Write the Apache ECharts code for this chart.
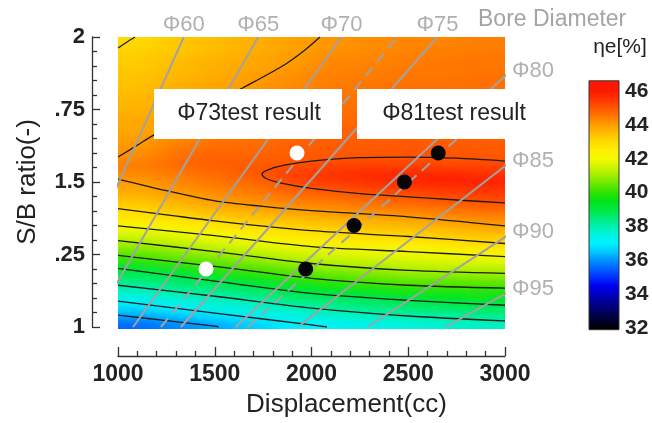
<!DOCTYPE html>
<html>
<head>
<meta charset="utf-8">
<script src="https://cdn.jsdelivr.net/npm/echarts@6/dist/echarts.min.js"></script>
<style>
  html, body { margin: 0; padding: 0; background: #fff; }
  #chart { width: 652px; height: 423px; }
</style>
</head>
<body>
<!-- soft shading for the efficiency field layer (wider across than down) -->
<svg width="0" height="0" style="position:absolute">
  <filter id="fieldShade" x="-10%" y="-10%" width="120%" height="120%">
    <feGaussianBlur stdDeviation="14 3.5"/>
  </filter>
</svg>
<div id="chart"></div>
<script>
// ---- efficiency map: cell centres (displacement in cc, stroke/bore ratio) ----
const displacementCells = [1100, 1300, 1500, 1700, 1900, 2100, 2300, 2500, 2700, 2900];
const ratioCells = [1.0125, 1.0375, 1.0625, 1.0875, 1.1125, 1.1375, 1.1625, 1.1875, 1.2125, 1.2375,
  1.2625, 1.2875, 1.3125, 1.3375, 1.3625, 1.3875, 1.4125, 1.4375, 1.4625, 1.4875,
  1.5125, 1.5375, 1.5625, 1.5875, 1.6125, 1.6375, 1.6625, 1.6875, 1.7125, 1.7375,
  1.7625, 1.7875, 1.8125, 1.8375, 1.8625, 1.8875, 1.9125, 1.9375, 1.9625, 1.9875];

// brake thermal efficiency [%], one column per displacement cell, bottom to top
const etaByDisplacement = [
  [35.6,36.1,36.6,37.1,37.6,38.0,38.5,38.9,39.4,40.0,40.5,41.0,41.4,41.9,42.4,42.8,43.1,43.4,43.7,43.9,44.1,44.3,44.4,44.2,44.1,44.0,43.9,43.8,43.8,43.7,43.6,43.6,43.5,43.4,43.4,43.3,43.2,43.2,43.1,43.0],
  [35.9,36.4,37.0,37.4,37.9,38.3,38.8,39.2,39.8,40.3,40.8,41.2,41.7,42.2,42.6,43.1,43.4,43.7,44.0,44.2,44.3,44.5,44.7,44.6,44.5,44.3,44.2,44.1,44.0,43.9,43.8,43.8,43.7,43.7,43.6,43.5,43.5,43.4,43.3,43.3],
  [36.2,36.8,37.3,37.7,38.1,38.6,39.1,39.6,40.1,40.6,41.1,41.5,42.0,42.4,42.9,43.3,43.7,44.0,44.2,44.4,44.6,44.7,44.9,44.8,44.7,44.6,44.5,44.4,44.3,44.1,44.0,44.0,43.9,43.8,43.8,43.7,43.7,43.6,43.5,43.5],
  [36.6,37.1,37.5,38.0,38.4,38.9,39.4,39.9,40.4,40.9,41.3,41.8,42.2,42.7,43.2,43.5,43.9,44.2,44.4,44.6,44.8,45.0,44.9,44.8,44.7,44.6,44.6,44.5,44.4,44.3,44.3,44.2,44.1,44.0,44.0,43.9,43.8,43.8,43.7,43.7],
  [37.0,37.4,37.8,38.3,38.8,39.3,39.7,40.2,40.7,41.2,41.6,42.1,42.5,43.0,43.3,43.7,44.1,44.4,44.7,45.0,45.3,45.3,45.0,44.9,44.9,44.8,44.7,44.7,44.6,44.5,44.4,44.4,44.3,44.2,44.2,44.1,44.0,44.0,43.9,43.9],
  [37.2,37.6,38.1,38.5,39.0,39.5,40.0,40.5,41.0,41.4,41.8,42.3,42.7,43.1,43.5,43.9,44.2,44.5,44.9,45.2,45.5,45.5,45.2,45.0,44.9,44.9,44.8,44.8,44.7,44.6,44.6,44.5,44.5,44.4,44.4,44.3,44.3,44.2,44.1,44.1],
  [37.3,37.8,38.3,38.7,39.2,39.7,40.2,40.7,41.1,41.5,41.9,42.4,42.9,43.3,43.6,44.0,44.4,44.7,45.0,45.4,45.7,45.6,45.3,45.0,44.9,44.9,44.8,44.8,44.7,44.7,44.6,44.6,44.5,44.5,44.4,44.4,44.3,44.3,44.2,44.2],
  [37.5,38.0,38.5,38.9,39.4,39.9,40.4,40.9,41.3,41.7,42.1,42.5,43.0,43.4,43.7,44.1,44.5,44.8,45.2,45.5,45.8,45.6,45.3,45.0,45.0,44.9,44.9,44.8,44.8,44.7,44.7,44.6,44.6,44.6,44.5,44.5,44.4,44.4,44.3,44.3],
  [37.7,38.1,38.6,39.1,39.5,40.0,40.4,40.9,41.4,41.8,42.2,42.7,43.2,43.5,43.9,44.3,44.6,45.0,45.3,45.6,45.9,45.6,45.2,45.0,45.0,44.9,44.9,44.8,44.8,44.7,44.7,44.7,44.6,44.6,44.5,44.5,44.5,44.4,44.4,44.3],
  [37.8,38.3,38.7,39.2,39.6,40.0,40.5,41.0,41.4,41.9,42.4,42.9,43.3,43.7,44.1,44.4,44.8,45.1,45.4,45.7,45.8,45.5,45.2,45.0,44.9,44.9,44.9,44.8,44.8,44.8,44.7,44.7,44.6,44.6,44.6,44.5,44.5,44.5,44.4,44.4]
];

// iso-efficiency lines [displacement, S/B ratio]
const contour36 = [[1000,1.041],[1250,1.022],[1500,1.003],[1520,1.0]];
const contour37 = [[1000,1.089],[1500,1.048],[2000,1.007],[2080,1.0]];
const contour38 = [[1000,1.144],[1500,1.106],[2000,1.065],[2500,1.038],[3000,1.021]];
const contour39 = [[1000,1.202],[1500,1.158],[2000,1.116],[2500,1.092],[3000,1.075]];
const contour40 = [[1000,1.247],[1500,1.209],[2000,1.168],[2500,1.144],[3000,1.134]];
const contour41 = [[1000,1.298],[1500,1.260],[2000,1.219],[2500,1.195],[3000,1.185]];
const contour42 = [[1000,1.349],[1500,1.315],[2000,1.277],[2500,1.260],[3000,1.243]];
const contour43 = [[1000,1.408],[1250,1.387],[1500,1.366],[2000,1.332],[2500,1.312],[3000,1.288]];
const contour44 = [[1000,1.510],[1250,1.470],[1500,1.435],[1750,1.416],[2000,1.401],[2500,1.380],[3000,1.349]];
const contour45 = [[3000,1.572],[2750,1.582],[2500,1.586],[2250,1.584],[2000,1.572],[1860,1.558],[1775,1.542],[1744,1.527],
                   [1765,1.512],[1850,1.495],[2000,1.478],[2250,1.460],[2500,1.449],[2750,1.438],[3000,1.428]];
const contour44Upper = [[1000,1.586],[1100,1.627],[1180,1.660],[1420,1.745],[1646,1.825],[1850,1.900],[1960,1.952],[2044,2.0]];
const contour43Upper = [[1000,1.962],[1045,1.982],[1088,2.0]];

// constant-bore lines: displacement at S/B = 1 and at S/B = 2
const boreNames = ['Φ60', 'Φ65', 'Φ70', 'Φ73', 'Φ75', 'Φ80', 'Φ81', 'Φ85', 'Φ90', 'Φ95'];
const boreDispAtRatio1 = [670, 863, 1078, 1222, 1325, 1608, 1670, 1929, 2290, 2693];
const boreDispAtRatio2 = [1340, 1725, 2155, 2444, 2651, 3217, 3339, 3858, 4580, 5386];
const testBores = ['Φ73', 'Φ81'];

// measured points
const test73 = [[1455, 1.2], [1925, 1.6]];
const test81 = [[1970, 1.2], [2220, 1.35], [2480, 1.5], [2655, 1.6]];

// tick labels
const ratioTickLabels = ['1', '.25', '1.5', '.75', '2'];
const etaMin = 32, etaMax = 46;

// colour scale 32 .. 46 in steps of 0.5
const etaColors = ['#000000','#000030','#000060','#000090','#0000c0','#0000f0','#0030ff','#0060ff','#0090ff','#00c8ff',
  '#00f0ff','#00f4e0','#00f0b0','#00ec78','#00e840','#00e418','#30e400','#68e800','#a0ee00','#d0f400',
  '#f4fa00','#ffee00','#ffda00','#ffbc00','#ff9c00','#ff7600','#ff5400','#ff3400','#ff1800'];

const FONT = 'Liberation Sans, Arial, sans-serif';
const TOP = 2; // drawing layer for everything above the shaded field

const heatData = [];
displacementCells.forEach((x, i) => {
  ratioCells.forEach((r, j) => heatData.push([x, r, etaByDisplacement[i][j]]));
});
const nRows = ratioCells.length, nCols = displacementCells.length;
const cellW = displacementCells[1] - displacementCells[0];
const cellH = ratioCells[1] - ratioCells[0];

const contourLines = [contour36, contour37, contour38, contour39, contour40, contour41, contour42,
  contour43, contour44, contour45, contour44Upper, contour43Upper];

const chart = echarts.init(document.getElementById('chart'), null, { renderer: 'canvas' });

const series = [];

// filled efficiency field (own layer; edge cells run past the frame so the shading stays even)
series.push({
  type: 'custom',
  xAxisIndex: 0, yAxisIndex: 0,
  data: heatData,
  encode: { x: 0, y: 1 },
  clip: false,
  silent: true,
  zlevel: 0,
  z: 1,
  renderItem: function (params, api) {
    const idx = params.dataIndex;
    const i = Math.floor(idx / nRows), j = idx % nRows;
    const x = api.value(0), r = api.value(1);
    const p0 = api.coord([x - cellW / 2, r + cellH / 2]);
    const p1 = api.coord([x + cellW / 2, r - cellH / 2]);
    let left = p0[0], top = p0[1], right = p1[0] + 0.7, bottom = p1[1] + 0.7;
    if (i === 0) left -= 45;
    if (i === nCols - 1) right += 45;
    if (j === 0) bottom += 14;
    if (j === nRows - 1) top -= 14;
    return {
      type: 'rect',
      shape: { x: left, y: top, width: right - left, height: bottom - top },
      style: { fill: api.visual('color') }
    };
  }
});

// iso-efficiency lines
contourLines.forEach(pts => {
  series.push({
    type: 'line', xAxisIndex: 0, yAxisIndex: 0,
    data: pts, smooth: 0.3, symbol: 'none', silent: true, zlevel: TOP, z: 3,
    lineStyle: { color: '#1c1c1c', width: 1.3 }
  });
});

// constant-bore lines
boreNames.forEach((name, i) => {
  const isTest = testBores.indexOf(name) >= 0;
  series.push({
    type: 'line', xAxisIndex: 0, yAxisIndex: 0,
    data: [[boreDispAtRatio1[i], 1], [boreDispAtRatio2[i], 2]],
    symbol: 'none', silent: true, clip: true, zlevel: TOP, z: 4,
    lineStyle: { color: '#a2a2a2', width: 2, type: isTest ? [11, 7] : 'solid' }
  });
});

// bore labels along the top edge and the right edge
const topLabels = [], rightLabels = [];
boreNames.forEach((name, i) => {
  if (testBores.indexOf(name) >= 0) return;
  const x1 = boreDispAtRatio1[i], x2 = boreDispAtRatio2[i];
  if (x2 <= 3000) {
    topLabels.push({ value: [x2, 2], name: name });
  } else {
    const rEnd = 1 + (3000 - x1) / (x2 - x1);
    rightLabels.push({ value: [3000, rEnd], name: name });
  }
});
const boreLabelStyle = { show: true, formatter: '{b}', fontFamily: FONT, fontSize: 22, color: '#9c9c9c' };
series.push({
  type: 'scatter', xAxisIndex: 0, yAxisIndex: 0, data: topLabels, symbolSize: 0, silent: true, zlevel: TOP, z: 6,
  label: Object.assign({ position: 'top', distance: 1 }, boreLabelStyle)
});
series.push({
  type: 'scatter', xAxisIndex: 0, yAxisIndex: 0, data: rightLabels, symbolSize: 0, silent: true, zlevel: TOP, z: 6,
  label: Object.assign({ position: 'right', distance: 7, offset: [0, -5] }, boreLabelStyle)
});

// test points
series.push({
  type: 'scatter', xAxisIndex: 0, yAxisIndex: 0, data: test73, symbolSize: 15, silent: true, zlevel: TOP, z: 7,
  itemStyle: { color: '#ffffff', opacity: 1 }
});
series.push({
  type: 'scatter', xAxisIndex: 0, yAxisIndex: 0, data: test81, symbolSize: 15, silent: true, zlevel: TOP, z: 7,
  itemStyle: { color: '#050505', opacity: 1 }
});

// colour bar
const cbTop = 46.6, cbBottom = 31.9;
const cbStops = [{ offset: 0, color: etaColors[etaColors.length - 1] }];
for (let k = etaColors.length - 1; k >= 0; k--) {
  const v = etaMin + k * (etaMax - etaMin) / (etaColors.length - 1);
  cbStops.push({ offset: (cbTop - v) / (cbTop - cbBottom), color: etaColors[k] });
}
cbStops.push({ offset: 1, color: etaColors[0] });
series.push({
  type: 'custom', xAxisIndex: 1, yAxisIndex: 1, data: [[0.5, 39]], clip: false, silent: true, zlevel: TOP, z: 2,
  renderItem: function (params, api) {
    const a = api.coord([0, cbTop]);
    const b = api.coord([1, cbBottom]);
    return {
      type: 'rect',
      shape: { x: a[0], y: a[1], width: b[0] - a[0], height: b[1] - a[1] },
      style: {
        fill: new echarts.graphic.LinearGradient(0, 0, 0, 1, cbStops),
        stroke: '#333', lineWidth: 1
      }
    };
  }
});

const tickStyle = { color: '#333', width: 1.3 };

const option = {
  animation: false,
  backgroundColor: 'transparent',
  title: {
    text: 'Bore Diameter', left: 478, top: 8, padding: 0, zlevel: TOP,
    textStyle: { fontFamily: FONT, fontSize: 23, fontWeight: 'normal', color: '#a4a4a4' }
  },
  grid: [
    { left: 118, top: 37, width: 387, height: 292 },
    { left: 589, top: 91, width: 30, height: 237 }
  ],
  visualMap: {
    type: 'continuous', show: false, min: etaMin, max: etaMax, dimension: 2, seriesIndex: 0,
    inRange: { color: etaColors }
  },
  xAxis: [
    {
      type: 'value', gridIndex: 0, min: 1000, max: 3000, interval: 500, position: 'bottom', offset: 29, zlevel: TOP,
      axisLine: { onZero: false, lineStyle: tickStyle },
      axisTick: { inside: true, length: 9, lineStyle: tickStyle },
      minorTick: { show: true, splitNumber: 5, length: 5, lineStyle: tickStyle },
      splitLine: { show: false },
      axisLabel: { margin: 7, fontFamily: FONT, fontSize: 23, fontWeight: 'bold', color: '#222', formatter: v => String(v) },
      name: 'Displacement(cc)', nameLocation: 'middle', nameGap: 36,
      nameTextStyle: { fontFamily: FONT, fontSize: 26, color: '#222', padding: [0, 0, 0, 70] }
    },
    { type: 'value', gridIndex: 1, min: 0, max: 1, show: false, zlevel: TOP }
  ],
  yAxis: [
    {
      type: 'value', gridIndex: 0, min: 1, max: 2, interval: 0.25, offset: 26, zlevel: TOP,
      axisLine: { onZero: false, lineStyle: tickStyle },
      axisTick: { inside: true, length: 8, lineStyle: tickStyle },
      minorTick: { show: true, splitNumber: 5, length: 5, lineStyle: tickStyle },
      splitLine: { show: false },
      axisLabel: {
        margin: 7, fontFamily: FONT, fontSize: 22, fontWeight: 'bold', color: '#222',
        formatter: v => ratioTickLabels[Math.round((v - 1) / 0.25)]
      },
      name: 'S/B ratio(-)', nameLocation: 'middle', nameGap: 51,
      nameTextStyle: { fontFamily: FONT, fontSize: 26, color: '#222' }
    },
    {
      type: 'value', gridIndex: 1, position: 'right', min: etaMin, max: etaMax, interval: 2, zlevel: TOP,
      axisLine: { show: false }, axisTick: { show: false }, splitLine: { show: false },
      axisLabel: { margin: 6, fontFamily: FONT, fontSize: 21, fontWeight: 'bold', color: '#222' }
    }
  ],
  series: series,
  graphic: [
    { type: 'text', zlevel: TOP, z: 100, x: 620, y: 47,
      style: { text: 'ηe[%]', fontFamily: FONT, fontSize: 21, fill: '#222', align: 'center', verticalAlign: 'middle' } },
    { type: 'rect', zlevel: TOP, z: 100, shape: { x: 154, y: 89, width: 188, height: 50 }, style: { fill: '#ffffff' } },
    { type: 'text', zlevel: TOP, z: 101, x: 249, y: 114,
      style: { text: 'Φ73test result', fontFamily: FONT, fontSize: 23, fill: '#222', align: 'center', verticalAlign: 'middle' } },
    { type: 'rect', zlevel: TOP, z: 100, shape: { x: 357, y: 89, width: 194, height: 50 }, style: { fill: '#ffffff' } },
    { type: 'text', zlevel: TOP, z: 101, x: 454, y: 114,
      style: { text: 'Φ81test result', fontFamily: FONT, fontSize: 23, fill: '#222', align: 'center', verticalAlign: 'middle' } }
  ]
};

chart.setOption(option);

// soften the field layer and keep it inside the plotting frame
const fieldCanvas = chart.getDom().querySelector('canvas[data-zr-dom-id="zr_0"]');
if (fieldCanvas) {
  fieldCanvas.style.filter = 'url(#fieldShade)';
  fieldCanvas.style.clipPath = 'inset(37px 147px 94px 118px)';
}
</script>
</body>
</html>
